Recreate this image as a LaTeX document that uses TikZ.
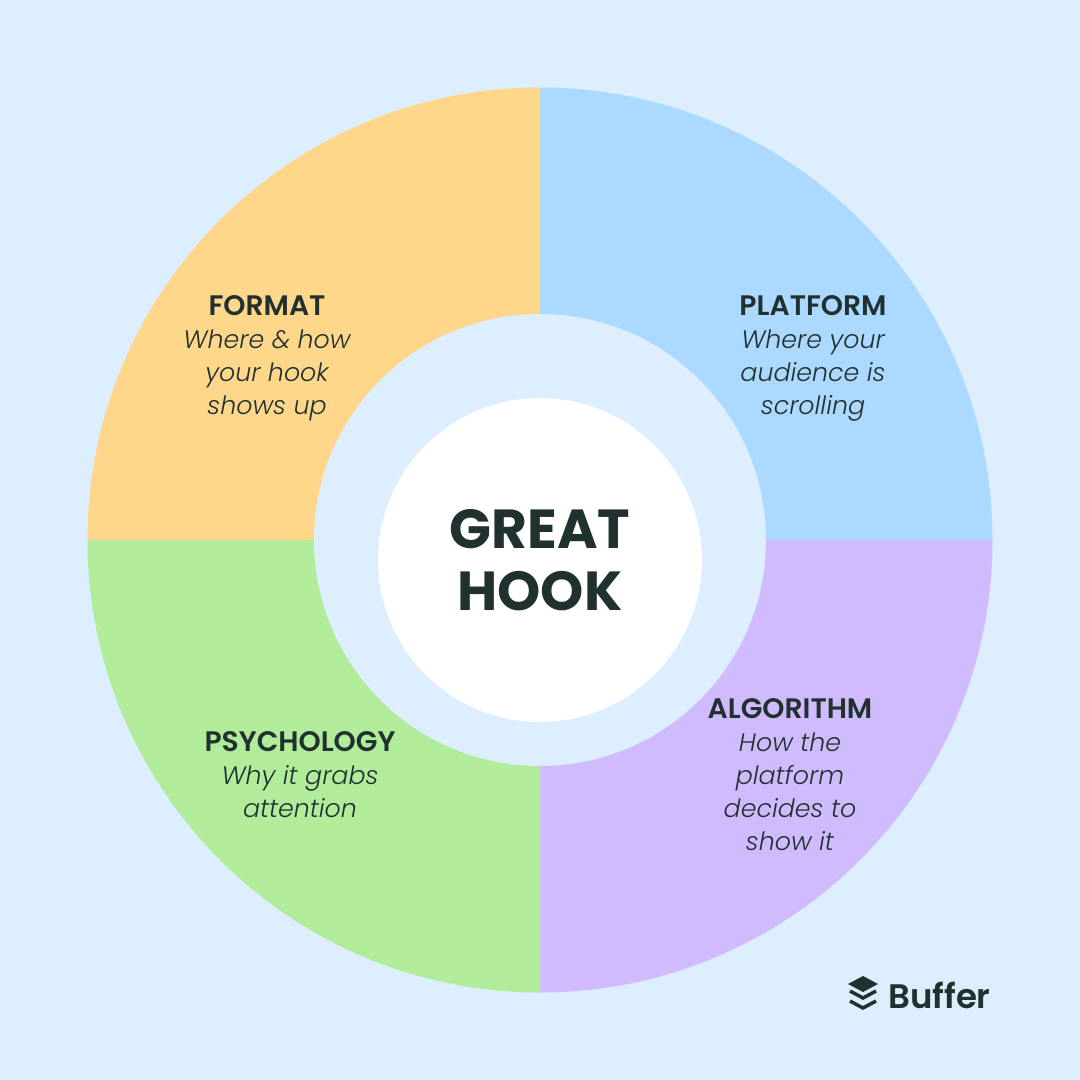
\documentclass[tikz,border=0pt]{standalone}
\usepackage{fontspec}
\setmainfont{Poppins}[ItalicFont={Poppins Light Italic},BoldFont={Poppins SemiBold}]
\newfontfamily\hookfont{Poppins}
\definecolor{ASky}{HTML}{DCEEFF}
\definecolor{ABlue}{HTML}{ABD9FF}
\definecolor{AOrange}{HTML}{FFD78A}
\definecolor{AGreen}{HTML}{B1EC9A}
\definecolor{APurple}{HTML}{D1BBFF}
\definecolor{AInk}{HTML}{213130}
\tikzset{
    label/.style = {text=AInk, align=center, inner sep=0pt, font=\itshape\fontsize{25.3}{33}\selectfont},
    hook/.style = {circle, fill=white, minimum size=324pt, inner sep=0pt, text=AInk, align=center,
        font=\hookfont\bfseries\fontsize{55}{62}\selectfont},
    logo/.style = {text=AInk, inner sep=0pt, font=\bfseries\fontsize{34}{34}\selectfont}
}
\newcommand{\slice}[3]{\fill [#1] (540,540) -- ++(#2:452.5) arc (#2:#3:452.5) -- cycle;}
\newcommand{\headline}[1]{{\upshape\bfseries\fontsize{28.2}{33}\selectfont #1}}
\begin{document}
\begin{tikzpicture}[x=1pt,y=-1pt]
    \fill [ASky] (0,0) rectangle (1080,1080);
    % ring, y axis points down so the angles run clockwise
    \slice{ABlue}{-90}{0}
    \slice{APurple}{0}{90}
    \slice{AGreen}{90}{180}
    \slice{AOrange}{180}{270}
    \fill [ASky] (540,540) circle (226);
    \node [hook] (hook) at (540,560) {GREAT\\HOOK};
    \node [label] (platform) at (813,358) {\headline{PLATFORM}\\Where your\\audience is\\scrolling};
    \node [label] (format) at (267,358) {\headline{FORMAT}\\Where \& how\\your hook\\shows up};
    \node [label] (psychology) at (300,775) {\headline{PSYCHOLOGY}\\Why it grabs\\attention};
    \node [label] (algorithm) at (790,775) {\headline{ALGORITHM}\\How the\\platform\\decides to\\show it};
    % logo
    \fill [AInk] (863,976) -- (878,984) -- (863,992) -- (848,984) -- cycle;
    \draw [AInk,line width=3.5pt] (850,991) -- (863,998) -- (876,991);
    \draw [AInk,line width=3.5pt] (850,1001) -- (863,1008) -- (876,1001);
    \node [logo,anchor=west] (buffer) at (888,995) {Buffer};
\end{tikzpicture}
\end{document}
